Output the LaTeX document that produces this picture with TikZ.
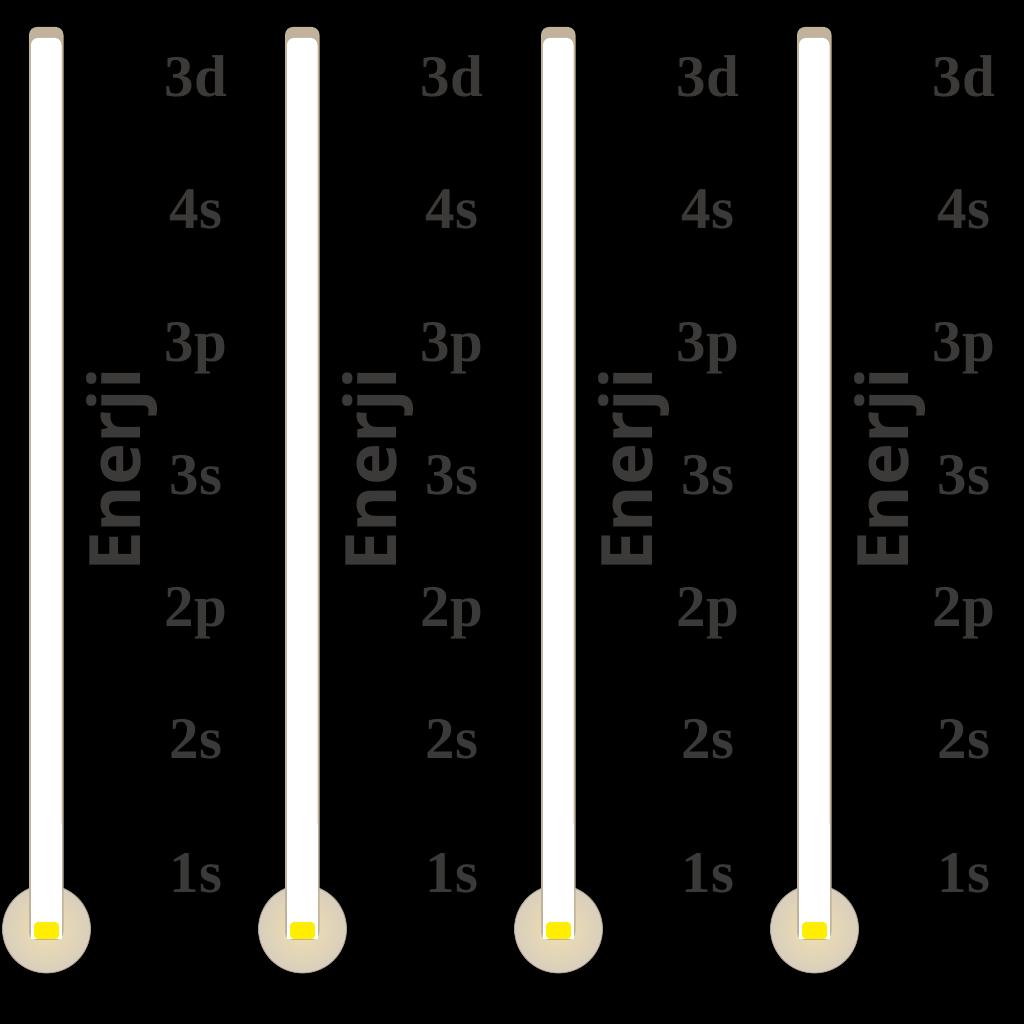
\documentclass[tikz,border=0pt]{standalone}
\usepackage{fontspec}
\setmainfont{Liberation Serif}
\newfontfamily\enfont{Open Sans}
\usetikzlibrary{shadings}
\definecolor{txtgray}{HTML}{3C3A38}
\definecolor{tubeedge}{HTML}{B8AC98}
\definecolor{captan}{HTML}{C2B29C}
\definecolor{bulbin}{HTML}{F2E0B0}
\definecolor{bulbout}{HTML}{D8CEBC}
\definecolor{bulbedge}{HTML}{A8A294}
\definecolor{liquid}{HTML}{FFEE00}
\tikzset{
  lvl/.style={anchor=base, text=txtgray, font=\fontsize{59}{61}\selectfont\bfseries, inner sep=0pt},
  energy/.style={anchor=base, rotate=90, text=txtgray, font=\enfont\fontsize{71}{73}\selectfont\bfseries, inner sep=0pt},
  bulb/.style={circle, minimum size=88pt, inner sep=0pt, inner color=bulbin, outer color=bulbout, draw=bulbedge, line width=0.8pt},
}
\begin{document}
\begin{tikzpicture}[x=1pt,y=1pt]
\useasboundingbox[fill=black] (0,0) rectangle (1024,1024);
\foreach \i in {0,1,2,3}{
  \begin{scope}[xshift=256*\i pt]
    % bulb
    \node[bulb] (bulb\i) at (46.5,95) {};
    % tube outer (tan cap and border)
    \fill[captan, rounded corners=8pt] (29,84) -- (29,997) -- (63.5,997) -- (63.5,84) -- cycle;
    % tube inner white
    \fill[white, rounded corners=7pt] (31,85) -- (31,986) -- (61.5,986) -- (61.5,85) -- cycle;
    \fill[white] (31,85) rectangle (61.5,200);
    % liquid
    \node[fill=liquid, rounded corners=4pt, minimum width=25pt, minimum height=17pt, inner sep=0pt] (liq\i) at (46.5,93.5) {};
    % labels
    \node[lvl] (d3\i) at (196,927) {3d};
    \node[lvl] (s4\i) at (196,795) {4s};
    \node[lvl] (p3\i) at (196,662) {3p};
    \node[lvl] (s3\i) at (196,529) {3s};
    \node[lvl] (p2\i) at (196,397) {2p};
    \node[lvl] (s2\i) at (196,265) {2s};
    \node[lvl] (s1\i) at (196,131) {1s};
    \node[energy] (en\i) at (140,554) {Enerji};
  \end{scope}
}
\end{tikzpicture}
\end{document}
